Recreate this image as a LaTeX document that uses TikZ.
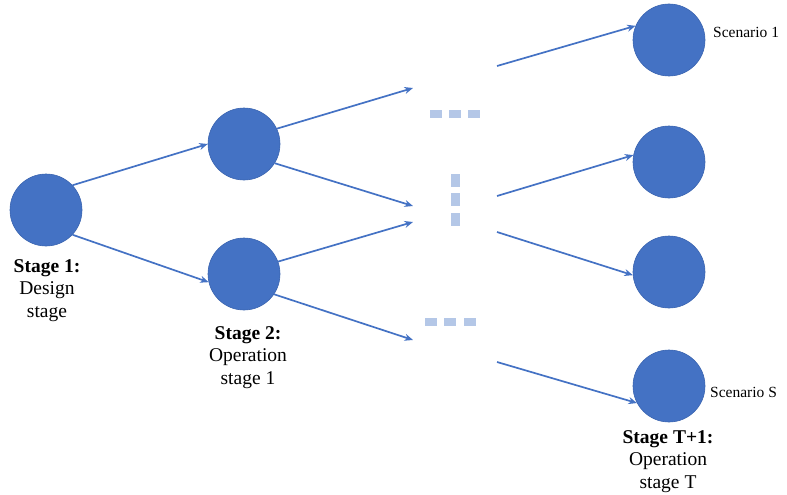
\documentclass[tikz,border=0pt]{standalone}
\usepackage{fontspec}
\setmainfont{Liberation Serif}
\usetikzlibrary{arrows.meta}
\definecolor{stateblue}{HTML}{4472C4}
\definecolor{stateedge}{HTML}{3A64B0}
\definecolor{gapblue}{HTML}{B4C7E7}
\begin{document}
\begin{tikzpicture}[x=1pt,y=-1pt,
  state/.style={circle,fill=stateblue,draw=stateedge,line width=0.6pt,minimum size=72pt,inner sep=0pt},
  branch/.style={draw=stateblue,line width=1.7pt,-{Stealth[length=8.5pt,width=7pt]}},
  stagelabel/.style={align=center,inner sep=0pt,anchor=north,font=\fontsize{19.5}{22.5}\selectfont},
  scenlabel/.style={inner sep=0pt,anchor=base west,font=\fontsize{15.5}{18}\selectfont},
  gap/.style={fill=gapblue}]
\useasboundingbox (0,0) rectangle (787,495);

% decision states
\node[state] (s1) at (46,210) {};
\node[state] (s2a) at (244,144) {};
\node[state] (s2b) at (244,274) {};
\node[state] (r1) at (669,40) {};
\node[state] (r2) at (669,162) {};
\node[state] (r3) at (669,272) {};
\node[state] (r4) at (669,386) {};

% omitted intermediate stages
\fill[gap] (430,110) rectangle (442,118);
\fill[gap] (449,110) rectangle (461,118);
\fill[gap] (468,110) rectangle (480,118);
\fill[gap] (451,174) rectangle (460,187);
\fill[gap] (451,193) rectangle (460,206);
\fill[gap] (451,213) rectangle (460,226);
\fill[gap] (425,318) rectangle (437,326);
\fill[gap] (444,318) rectangle (456,326);
\fill[gap] (464,318) rectangle (476,326);

% loose ends of the branches around the gaps
\coordinate (inA) at (413,88);
\coordinate (inB) at (413,206);
\coordinate (inC) at (413,222);
\coordinate (inD) at (413,340);
\coordinate (outA) at (497,66);
\coordinate (outB) at (497,196);
\coordinate (outC) at (497,232);
\coordinate (outD) at (497,362);

% branches
\draw[branch] (s1.43) -- (s2a.180);
\draw[branch] (s1.-43) -- (s2b.193);
\draw[branch] (s2a.25) -- (inA);
\draw[branch] (s2a.-32) -- (inB);
\draw[branch] (s2b.20) -- (inC);
\draw[branch] (s2b.-34) -- (inD);
\draw[branch] (outA) -- (r1.157);
\draw[branch] (outB) -- (r2.169);
\draw[branch] (outC) -- (r3.185);
\draw[branch] (outD) -- (r4.208);

% labels
\node[stagelabel] (l1) at (47,259) {\textbf{Stage 1:}\\Design\\stage};
\node[stagelabel] (l2) at (248,326) {\textbf{Stage 2:}\\Operation\\stage 1};
\node[stagelabel] (l3) at (668,430) {\textbf{Stage T+1:}\\Operation\\stage T};
\node[scenlabel] (sc1) at (713,38) {Scenario 1};
\node[scenlabel] (scS) at (710,397) {Scenario S};
\end{tikzpicture}
\end{document}
